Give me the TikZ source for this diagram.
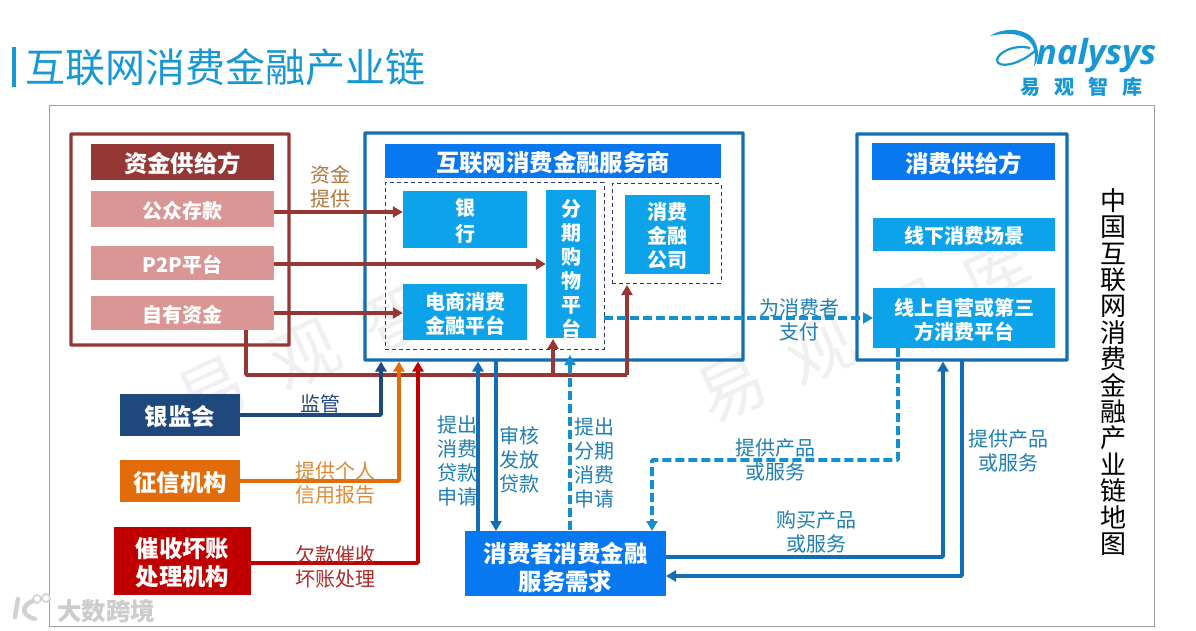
\documentclass[tikz,border=0pt]{standalone}
\usepackage{fontspec}
\setmainfont{Noto Sans CJK SC}
\newfontfamily\latinlogo[Scale=1]{Open Sans}
\usetikzlibrary{arrows.meta,calc}
\definecolor{wine}{HTML}{953735}
\definecolor{rose}{HTML}{D99694}
\definecolor{frameblue}{HTML}{116DB5}
\definecolor{headblue}{HTML}{0878F0}
\definecolor{cellblue}{HTML}{0CA3EA}
\definecolor{titleblue}{HTML}{1798D4}
\definecolor{dashblue}{HTML}{1590CE}
\definecolor{navy}{HTML}{1F497D}
\definecolor{amber}{HTML}{E36C0A}
\definecolor{crimson}{HTML}{C00000}
\definecolor{lblblue}{HTML}{1F7FB5}
\definecolor{lblbrown}{HTML}{B0763A}
\definecolor{lblamber}{HTML}{DD8A36}
\definecolor{lblred}{HTML}{B02A2A}
\tikzset{
  frame/.style={draw=#1,line width=3.4pt,fill=none,rounded corners=0.5pt,inner sep=0pt},
  dashbox/.style={draw=black!65!blue!80,line width=1pt,dash pattern=on 4pt off 3pt,inner sep=0pt},
  conn/.style={line width=3.6pt,draw=#1,rounded corners=1pt,-{Triangle[length=10pt,width=11pt]}},
  plainconn/.style={line width=3.6pt,draw=#1,rounded corners=1pt},
  dashconn/.style={line width=3.6pt,draw=dashblue,dash pattern=on 9pt off 4pt,rounded corners=1pt,-{Triangle[length=10pt,width=11pt,sep=0pt]}},
  lbl/.style={align=center,inner sep=0pt,font=\fontsize{20}{24}\selectfont\color{#1}},
  wm/.style={text=black!6,font=\fontsize{68}{70}\selectfont,inner sep=0pt,rotate=25},
}
\def\ts{-1.5pt}
\newcommand{\rect}[8]{%
  \node[draw=none,fill=#6,inner sep=0pt,minimum width=#3pt-#1pt,minimum height=#4pt-#2pt] (#5) at ({(#1+#3)/2},{(#2+#4)/2}) {};
  \node[text=white,inner sep=0pt,align=center,font=\fontsize{#7}{24}\selectfont\bfseries] (#5t) at ([yshift=\ts]#5.center) {#8};}
\begin{document}
\begin{tikzpicture}[x=1pt,y=-1pt]
\useasboundingbox (0,0) rectangle (1196,631);
\fill[white] (0,0) rectangle (1196,631);
% watermarks
\node[wm] (w1) at (212,392) {易};
\node[wm] (w2) at (305,355) {观};
\node[wm] (w3) at (395,318) {智};
\node[wm] (w4) at (732,388) {易};
\node[wm] (w5) at (820,350) {观};
\node[wm] (w6) at (908,312) {智};
\node[wm] (w7) at (996,274) {库};
% outer frame
\node[draw=black!38,line width=1pt,minimum width=1105pt,minimum height=520pt,inner sep=0pt] (outer) at (601.5,366) {};
% title
\fill[titleblue] (12,47) rectangle (15.5,87);
\node[anchor=west,inner sep=0pt,text=titleblue,font=\fontsize{40}{44}\selectfont] (title) at (25,67) {互联网消费金融产业链};
% logo
\fill[titleblue] (990,36) .. controls (1005,26) and (1030,28) .. (1036,44) .. controls (1040,55) and (1037,62) .. (1034,66) .. controls (1036,55) and (1035,46) .. (1028,40) .. controls (1018,32) and (1003,33) .. (990,36) -- cycle;
\draw[titleblue,line width=2.2pt] (1030,48) .. controls (1015,44) and (998,52) .. (997,60) .. controls (997,69) and (1020,65) .. (1036,50);
\node[anchor=west,inner sep=0pt,text=titleblue,font=\latinlogo\itshape\bfseries\fontsize{34.5}{36}\selectfont] (logo) at (1036,56) {nalysys};
\node[inner sep=0pt,text=titleblue,font=\fontsize{20}{22}\selectfont\bfseries] (logocn) at (1081,87) {易\hspace{14pt}观\hspace{14pt}智\hspace{14pt}库};
% left group
\node[frame=wine,minimum width=218pt,minimum height=211pt] (left) at (180,239.5) {};
\rect{91}{144}{274}{180}{lhead}{wine}{23.4}{资金供给方}
\rect{91}{191}{274}{227}{gz}{rose}{20}{公众存款}
\rect{91}{246}{274}{280}{p2p}{rose}{20}{P2P平台}
\rect{91}{296}{274}{330}{zy}{rose}{20}{自有资金}
% middle group
\node[frame=frameblue,minimum width=378pt,minimum height=227pt] (mid) at (554,246.5) {};
\rect{385}{144}{721}{178}{mhead}{headblue}{23.4}{互联网消费金融服务商}
\node[dashbox,minimum width=219pt,minimum height=166pt] (d1) at (494.5,266) {};
\node[dashbox,minimum width=109pt,minimum height=99pt] (d2) at (666.5,233.5) {};
\rect{403}{191}{527}{248}{bank}{cellblue}{20}{银\\[2pt]行}
\rect{403}{284}{527}{340}{ec}{cellblue}{20}{电商消费\\金融平台}
\def\ts{-5pt}
\rect{546}{190}{596}{338}{fq}{cellblue}{20}{分\\期\\购\\物\\平\\台}
\def\ts{-1.5pt}
\rect{625}{195}{710}{274}{xf}{cellblue}{20}{消费\\金融\\公司}
% right group
\node[frame=frameblue,minimum width=210pt,minimum height=226pt] (right) at (962,247) {};
\rect{872}{143}{1055}{180}{rhead}{headblue}{23.4}{消费供给方}
\rect{873}{218}{1055}{251}{off}{cellblue}{20}{线下消费场景}
\rect{873}{288}{1055}{348}{on}{cellblue}{20}{线上自营或第三\\方消费平台}
% lower left
\rect{120}{394}{240}{436}{cbrc}{navy}{23.4}{银监会}
\rect{120}{460}{240}{502}{zx}{amber}{23.4}{征信机构}
\rect{114}{527}{251}{595}{cs}{crimson}{23.4}{催收坏账\\[4pt]处理机构}
\def\ts{-3.5pt}
\rect{465}{531}{666}{596}{cons}{headblue}{23.4}{消费者消费金融\\[4pt]服务需求}
\def\ts{-1.5pt}
% helper coordinates
\coordinate (gzout) at (274,212);
\coordinate (p2pout) at (274,264);
\coordinate (zyout) at (274,313);
\coordinate (zydown) at (246,330);
\coordinate (rail) at (246,375);
\coordinate (midA) at (381,361.5);
\coordinate (midB) at (399,361.5);
\coordinate (midC) at (418,361.5);
\coordinate (midD) at (478,361.5);
\coordinate (midE) at (496,361);
\coordinate (consA) at (478,531);
\coordinate (consE) at (496,531);
\coordinate (consF) at (570,530);
\coordinate (fqF) at (570,339);
\coordinate (fqTop) at (553,339);
\coordinate (xfTop) at (627,285);
\coordinate (dashOut) at (604,318);
\coordinate (onLeft) at (873,318);
\coordinate (onDown) at (898,348);
\coordinate (consTop) at (652,531);
\coordinate (rightA) at (943,361.5);
\coordinate (rightB) at (962,361);
\coordinate (consR1) at (666,557);
\coordinate (consR2) at (666,576);
% connectors
\draw[conn=wine] (gzout) -- (gzout -| bank.west);
\draw[conn=wine] (p2pout) -- (p2pout -| fq.west);
\draw[conn=wine] (zyout) -- (zyout -| ec.west);
\draw[plainconn=wine] (zydown) -- (rail) -- (rail -| xfTop);
\draw[conn=wine,rounded corners=0pt] (rail -| fqTop) -- (fqTop);
\draw[conn=wine] (rail -| xfTop) -- (xfTop);
\draw[dashconn] (dashOut) -- (onLeft);
\draw[conn=navy] (cbrc.east) -- (cbrc.east -| midA) -- (midA);
\draw[conn=amber] (zx.east) -- (zx.east -| midB) -- (midB);
\draw[conn=crimson] (cs.east |- 0,563) -- (midC |- 0,563) -- (midC);
\draw[conn=frameblue] (consA) -- (midD);
\draw[conn=frameblue] (midE) -- (consE);
\draw[dashconn] (consF) -- (fqF |- 0,355);
\draw[dashconn] (onDown) -- (onDown |- 0,460) -- (consTop |- 0,460) -- (consTop);
\draw[conn=frameblue] (consR1) -- (consR1 -| rightA) -- (rightA);
\draw[conn=frameblue] (rightB) -- (rightB |- consR2) -- (consR2);
% labels
\node[lbl=lblbrown] (l1) at (330,186.5) {资金\\提供};
\node[lbl=lblblue] (l2) at (799,319.5) {为消费者\\支付};
\node[lbl=navy] (l3) at (320,403.5) {监管};
\node[lbl=lblamber] (l4) at (335,482.5) {提供个人\\信用报告};
\node[lbl=lblred] (l5) at (335,566.5) {欠款催收\\坏账处理};
\node[lbl=lblblue] (l6) at (457,460.5) {提出\\消费\\贷款\\申请};
\node[lbl=lblblue] (l7) at (519,459.5) {审核\\发放\\贷款};
\node[lbl=lblblue] (l8) at (594,462.5) {提出\\分期\\消费\\申请};
\node[lbl=lblblue] (l9) at (775,460) {提供产品\\或服务};
\node[lbl=lblblue] (l10) at (816,532) {购买产品\\或服务};
\node[lbl=lblblue] (l11) at (1008,451) {提供产品\\或服务};
% side title
\node[inner sep=0pt,align=center,font=\fontsize{26}{26.4}\selectfont] (side) at (1113,372) {中\\国\\互\\联\\网\\消\\费\\金\\融\\产\\业\\链\\地\\图};
% bottom-left mark
\draw[black!18,line width=4.5pt,line cap=round] (18,599) -- (15,617);
\draw[black!18,line width=4.5pt,line cap=round] (33,601) .. controls (22,605) and (20,615) .. (35,619);
\draw[black!18,line width=1.6pt] (37,599) circle (4pt) (46,598) circle (4pt);
\node[anchor=west,inner sep=0pt,text=black!20,font=\fontsize{24.5}{26}\selectfont\bfseries] (mark) at (57,611) {大数跨境};
\end{tikzpicture}
\end{document}
